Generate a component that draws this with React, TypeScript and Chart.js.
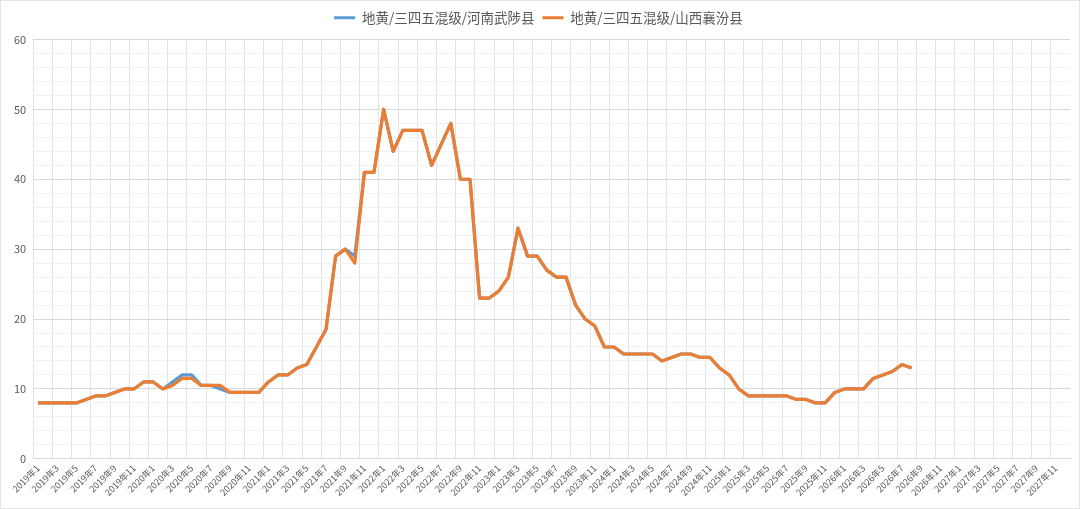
import React, { useEffect, useRef } from 'react';
import { Chart, registerables } from 'chart.js';

Chart.register(...registerables);

// 横轴：2019年1 ～ 2027年12（按月）
const years = [2019, 2020, 2021, 2022, 2023, 2024, 2025, 2026, 2027];
const months = [1, 2, 3, 4, 5, 6, 7, 8, 9, 10, 11, 12];
const categories: string[] = years.flatMap((y) => months.map((m) => `${y}年${m}`));

const seriesNames = ['地黄/三四五混级/河南武陟县', '地黄/三四五混级/山西襄汾县'];
const seriesColors = ['#5B9BD5', '#ED7D31'];

// 河南武陟县（2019年1 ～ 2026年8）
const wuzhi: (number | null)[] = [
  8, 8, 8, 8, 8, 8.5, 9, 9, 9.5, 10, 10, 11,
  11, 10, 11, 12, 12, 10.5, 10.5, 10, 9.5, 9.5, 9.5, 9.5,
  11, 12, 12, 13, 13.5, 16, 18.5, 29, 30, 29, 41, 41,
  50, 44, 47, 47, 47, 42, 45, 48, 40, 40, 23, 23,
  24, 26, 33, 29, 29, 27, 26, 26, 22, 20, 19, 16,
  16, 15, 15, 15, 15, 14, 14.5, 15, 15, 14.5, 14.5, 13,
  12, 10, 9, 9, 9, 9, 9, 8.5, 8.5, 8, 8, 9.5,
  10, 10, 10, 11.5, 12, 12.5, 13.5, 13,
];

// 山西襄汾县（2019年1 ～ 2026年8）
const xiangfen: (number | null)[] = [
  8, 8, 8, 8, 8, 8.5, 9, 9, 9.5, 10, 10, 11,
  11, 10, 10.5, 11.5, 11.5, 10.5, 10.5, 10.5, 9.5, 9.5, 9.5, 9.5,
  11, 12, 12, 13, 13.5, 16, 18.5, 29, 30, 28, 41, 41,
  50, 44, 47, 47, 47, 42, 45, 48, 40, 40, 23, 23,
  24, 26, 33, 29, 29, 27, 26, 26, 22, 20, 19, 16,
  16, 15, 15, 15, 15, 14, 14.5, 15, 15, 14.5, 14.5, 13,
  12, 10, 9, 9, 9, 9, 9, 8.5, 8.5, 8, 8, 9.5,
  10, 10, 10, 11.5, 12, 12.5, 13.5, 13,
];

const yMin = 0;
const yMax = 60;
const yMajorStep = 10;
const yMinorStep = 2;

const pad = (arr: (number | null)[]) => categories.map((_, i) => (i < arr.length ? arr[i] : null));

// 图例下方留一点空（Chart.js 没有直接的选项）
const legendGap = {
  id: 'legendGap',
  beforeLayout(chart: any) {
    const lg = chart.legend;
    if (lg && !lg._gapPatched) {
      const orig = lg.fit.bind(lg);
      lg.fit = () => {
        orig();
        lg.height += 5;
      };
      lg._gapPatched = true;
    }
  },
};

export default function App() {
  const canvasRef = useRef<HTMLCanvasElement | null>(null);

  useEffect(() => {
    document.body.style.margin = '0';
    const canvas = canvasRef.current;
    if (!canvas) return;

    const font = '"Noto Sans CJK SC", "Noto Sans", sans-serif';
    const chart = new Chart(canvas, {
      type: 'line',
      data: {
        labels: categories,
        datasets: [
          {
            label: seriesNames[0],
            data: pad(wuzhi),
            borderColor: seriesColors[0],
            backgroundColor: seriesColors[0],
            borderWidth: 3.2,
            pointRadius: 0,
            pointHoverRadius: 0,
            tension: 0,
            borderJoinStyle: 'round',
            spanGaps: false,
            order: 1,
          },
          {
            label: seriesNames[1],
            data: pad(xiangfen),
            borderColor: seriesColors[1],
            backgroundColor: seriesColors[1],
            borderWidth: 3.2,
            pointRadius: 0,
            pointHoverRadius: 0,
            tension: 0,
            borderJoinStyle: 'round',
            spanGaps: false,
            order: 0,
          },
        ],
      },
      options: {
        animation: false,
        responsive: true,
        maintainAspectRatio: false,
        layout: { padding: { left: 6, right: 9, top: 2, bottom: 6 } },
        font: { family: font },
        plugins: {
          tooltip: { enabled: false },
          legend: {
            position: 'top',
            labels: {
              font: { family: font, size: 13.5 },
              color: '#595959',
              usePointStyle: true,
              pointStyle: 'line',
              pointStyleWidth: 21,
              padding: 8,
              sort: (a, b) => (a.datasetIndex ?? 0) - (b.datasetIndex ?? 0),
            },
          },
        },
        scales: {
          x: {
            type: 'category',
            offset: true,
            grid: {
              offset: true,
              drawTicks: false,
              color: (ctx) => (ctx.index % 2 === 0 ? '#e3e3e3' : 'rgba(0,0,0,0)'),
              lineWidth: 1,
            },
            border: { color: '#d9d9d9' },
            ticks: {
              autoSkip: false,
              maxRotation: 45,
              minRotation: 45,
              padding: 4,
              color: '#595959',
              font: { family: font, size: 9 },
              callback: (_v, i) => (i % 2 === 0 ? categories[i] : ''),
            },
          },
          y: {
            min: yMin,
            max: yMax,
            grid: {
              drawTicks: false,
              color: (ctx) =>
                ctx.tick && ctx.tick.value % yMajorStep === 0 ? '#d9d9d9' : '#f1f1f1',
            },
            border: { display: false },
            ticks: {
              autoSkip: false,
              stepSize: yMinorStep,
              padding: 7,
              color: '#595959',
              font: { family: font, size: 11 },
              callback: (v) => (Number(v) % yMajorStep === 0 ? String(v) : ''),
            },
          },
        },
      },
      plugins: [legendGap],
    });

    return () => {
      chart.destroy();
    };
  }, []);

  return (
    <div
      style={{
        position: 'relative',
        width: 1080,
        height: 509,
        boxSizing: 'border-box',
        border: '1px solid #e6e6e6',
        background: '#fff',
      }}
    >
      <canvas ref={canvasRef} />
    </div>
  );
}
